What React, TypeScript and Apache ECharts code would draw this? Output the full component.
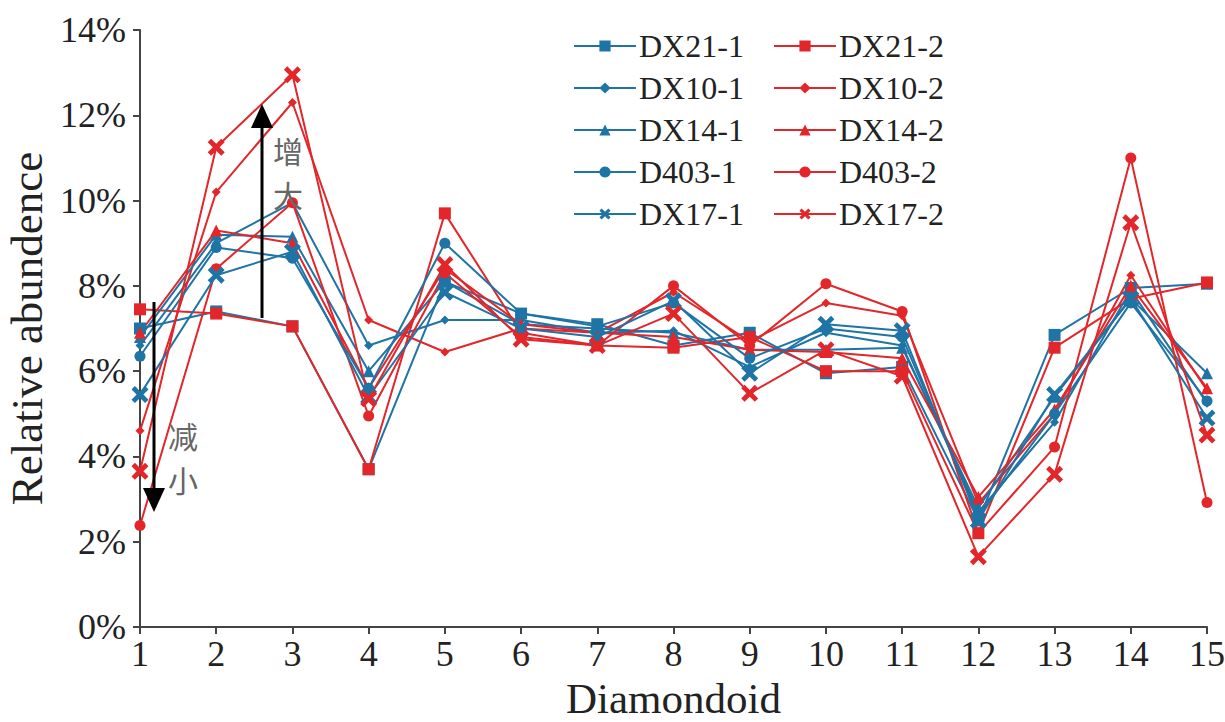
import React, { useEffect, useRef } from "react";
import * as echarts from "echarts";

const diamondoids = [1, 2, 3, 4, 5, 6, 7, 8, 9, 10, 11, 12, 13, 14, 15];
const yTicks = [0, 2, 4, 6, 8, 10, 12, 14];

const DX21_1 = [7.0, 7.4, 7.05, 3.7, 8.1, 7.35, 7.1, 6.6, 6.9, 5.95, 6.1, 2.5, 6.85, 7.95, 8.05];
const DX10_1 = [6.6, 9.0, 9.95, 6.6, 7.2, 7.2, 6.9, 6.95, 6.1, 6.9, 6.6, 2.7, 4.8, 7.9, 5.25];
const DX14_1 = [6.8, 9.2, 9.15, 6.0, 8.1, 7.1, 7.0, 6.9, 6.5, 6.5, 6.55, 2.8, 5.4, 7.7, 5.95];
const D403_1 = [6.35, 8.9, 8.65, 5.6, 9.0, 7.35, 7.05, 7.6, 6.3, 7.0, 6.8, 2.6, 5.0, 7.6, 5.3];
const DX17_1 = [5.45, 8.25, 8.8, 5.4, 7.85, 7.0, 6.8, 7.65, 5.95, 7.1, 6.95, 2.5, 5.45, 7.7, 4.9];
const DX21_2 = [7.45, 7.35, 7.05, 3.7, 9.7, 6.9, 6.6, 6.55, 6.8, 6.0, 6.0, 2.2, 6.55, 7.7, 8.08];
const DX10_2 = [4.6, 10.2, 12.3, 7.2, 6.45, 7.0, 6.9, 7.85, 6.7, 7.6, 7.3, 2.9, 5.0, 8.25, 5.55];
const DX14_2 = [6.9, 9.3, 9.0, 5.6, 8.4, 7.1, 6.9, 6.8, 6.5, 6.45, 6.3, 3.05, 5.1, 8.0, 5.6];
const D403_2 = [2.38, 8.4, 9.95, 4.95, 8.3, 6.8, 6.6, 8.0, 6.6, 8.05, 7.4, 2.2, 4.22, 11.0, 2.92];
const DX17_2 = [3.65, 11.25, 12.95, 5.35, 8.5, 6.75, 6.6, 7.35, 5.48, 6.5, 5.88, 1.65, 3.58, 9.48, 4.5];

const seriesNames1 = ["DX21-1", "DX10-1", "DX14-1", "D403-1", "DX17-1"];
const seriesNames2 = ["DX21-2", "DX10-2", "DX14-2", "D403-2", "DX17-2"];
const values1 = [DX21_1, DX10_1, DX14_1, D403_1, DX17_1];
const values2 = [DX21_2, DX10_2, DX14_2, D403_2, DX17_2];

const BLUE = "#1f74a6";
const RED = "#e2262a";
const XSYM = "path://M2,0L5,3L8,0L10,2L7,5L10,8L8,10L5,7L2,10L0,8L3,5L0,2Z";
const symbols = ["rect", "diamond", "triangle", "circle", XSYM];
const sizes = [12, 9, 12, 11, 17];
const FONT = "'Liberation Serif', 'Times New Roman', serif";

export default function App() {
  const ref = useRef<HTMLDivElement>(null);
  useEffect(() => {
    if (!ref.current) return;
    const chart = echarts.init(ref.current, undefined, { renderer: "svg" });
    const mk = (name: string, vals: number[], color: string, i: number) => ({
      name,
      type: "line",
      data: vals.map((v, k) => [diamondoids[k], v]),
      symbol: symbols[i],
      symbolSize: sizes[i],
      showAllSymbol: true,
      clip: false,
      lineStyle: { color, width: 2 },
      itemStyle: { color },
      emphasis: { disabled: true },
      z: 3,
    });
    const series: any[] = [];
    for (let i = 0; i < 5; i++) {
      series.push(mk(seriesNames1[i], values1[i], BLUE, i));
      series.push(mk(seriesNames2[i], values2[i], RED, i));
    }
    const legendCommon = {
      orient: "vertical",
      top: 25,
      itemWidth: 62,
      itemHeight: 14,
      itemGap: 10,
      textStyle: { fontFamily: FONT, fontSize: 32, color: "#222", padding: [0, 0, 0, -2] },
    };
    chart.setOption({
      animation: false,
      textStyle: { fontFamily: FONT },
      grid: { left: 140, right: 18, top: 30, bottom: 95, containLabel: false, outerBoundsMode: "none" },
      legend: [
        { ...legendCommon, left: 568, data: seriesNames1 },
        { ...legendCommon, left: 768, data: seriesNames2 },
      ],
      xAxis: {
        type: "value",
        min: 1,
        max: 15,
        interval: 1,
        name: "Diamondoid",
        nameLocation: "middle",
        nameGap: 47,
        nameTextStyle: { fontFamily: FONT, fontSize: 43, color: "#222" },
        axisLine: { show: true, lineStyle: { color: "#444", width: 2 } },
        axisTick: { show: true, length: 7, lineStyle: { color: "#444", width: 2 } },
        axisLabel: { fontFamily: FONT, fontSize: 36, color: "#222", margin: 9 },
        splitLine: { show: false },
      },
      yAxis: {
        type: "value",
        min: yTicks[0],
        max: yTicks[yTicks.length - 1],
        interval: 2,
        name: "Relative abundence",
        nameLocation: "middle",
        nameGap: 87,
        nameTextStyle: { fontFamily: FONT, fontSize: 45, color: "#222" },
        axisLine: { show: true, lineStyle: { color: "#444", width: 2 } },
        axisTick: { show: true, length: 7, lineStyle: { color: "#444", width: 2 } },
        axisLabel: { fontFamily: FONT, fontSize: 36, color: "#222", margin: 14, formatter: "{value}%" },
        splitLine: { show: false },
      },
      graphic: [
        { type: "line", shape: { x1: 262, y1: 318, x2: 262, y2: 125 }, style: { stroke: "#000", lineWidth: 3 }, z: 10 },
        { type: "polygon", shape: { points: [[262, 104], [251, 128], [273, 128]] }, style: { fill: "#000" }, z: 10 },
        { type: "line", shape: { x1: 154, y1: 302, x2: 154, y2: 492 }, style: { stroke: "#000", lineWidth: 3 }, z: 10 },
        { type: "polygon", shape: { points: [[154, 512], [143, 488], [165, 488]] }, style: { fill: "#000" }, z: 10 },
        { type: "text", left: 273, top: 128, style: { text: "增\n大", font: "30px 'Noto Sans CJK SC'", lineHeight: 44, fill: "#666" }, z: 10 },
        { type: "text", left: 168, top: 413, style: { text: "减\n小", font: "30px 'Noto Sans CJK SC'", lineHeight: 44, fill: "#666" }, z: 10 },
      ],
      series,
    });
    return () => chart.dispose();
  }, []);
  return <div ref={ref} style={{ position: "absolute", left: 0, top: 0, width: 1225, height: 722 }} />;
}
